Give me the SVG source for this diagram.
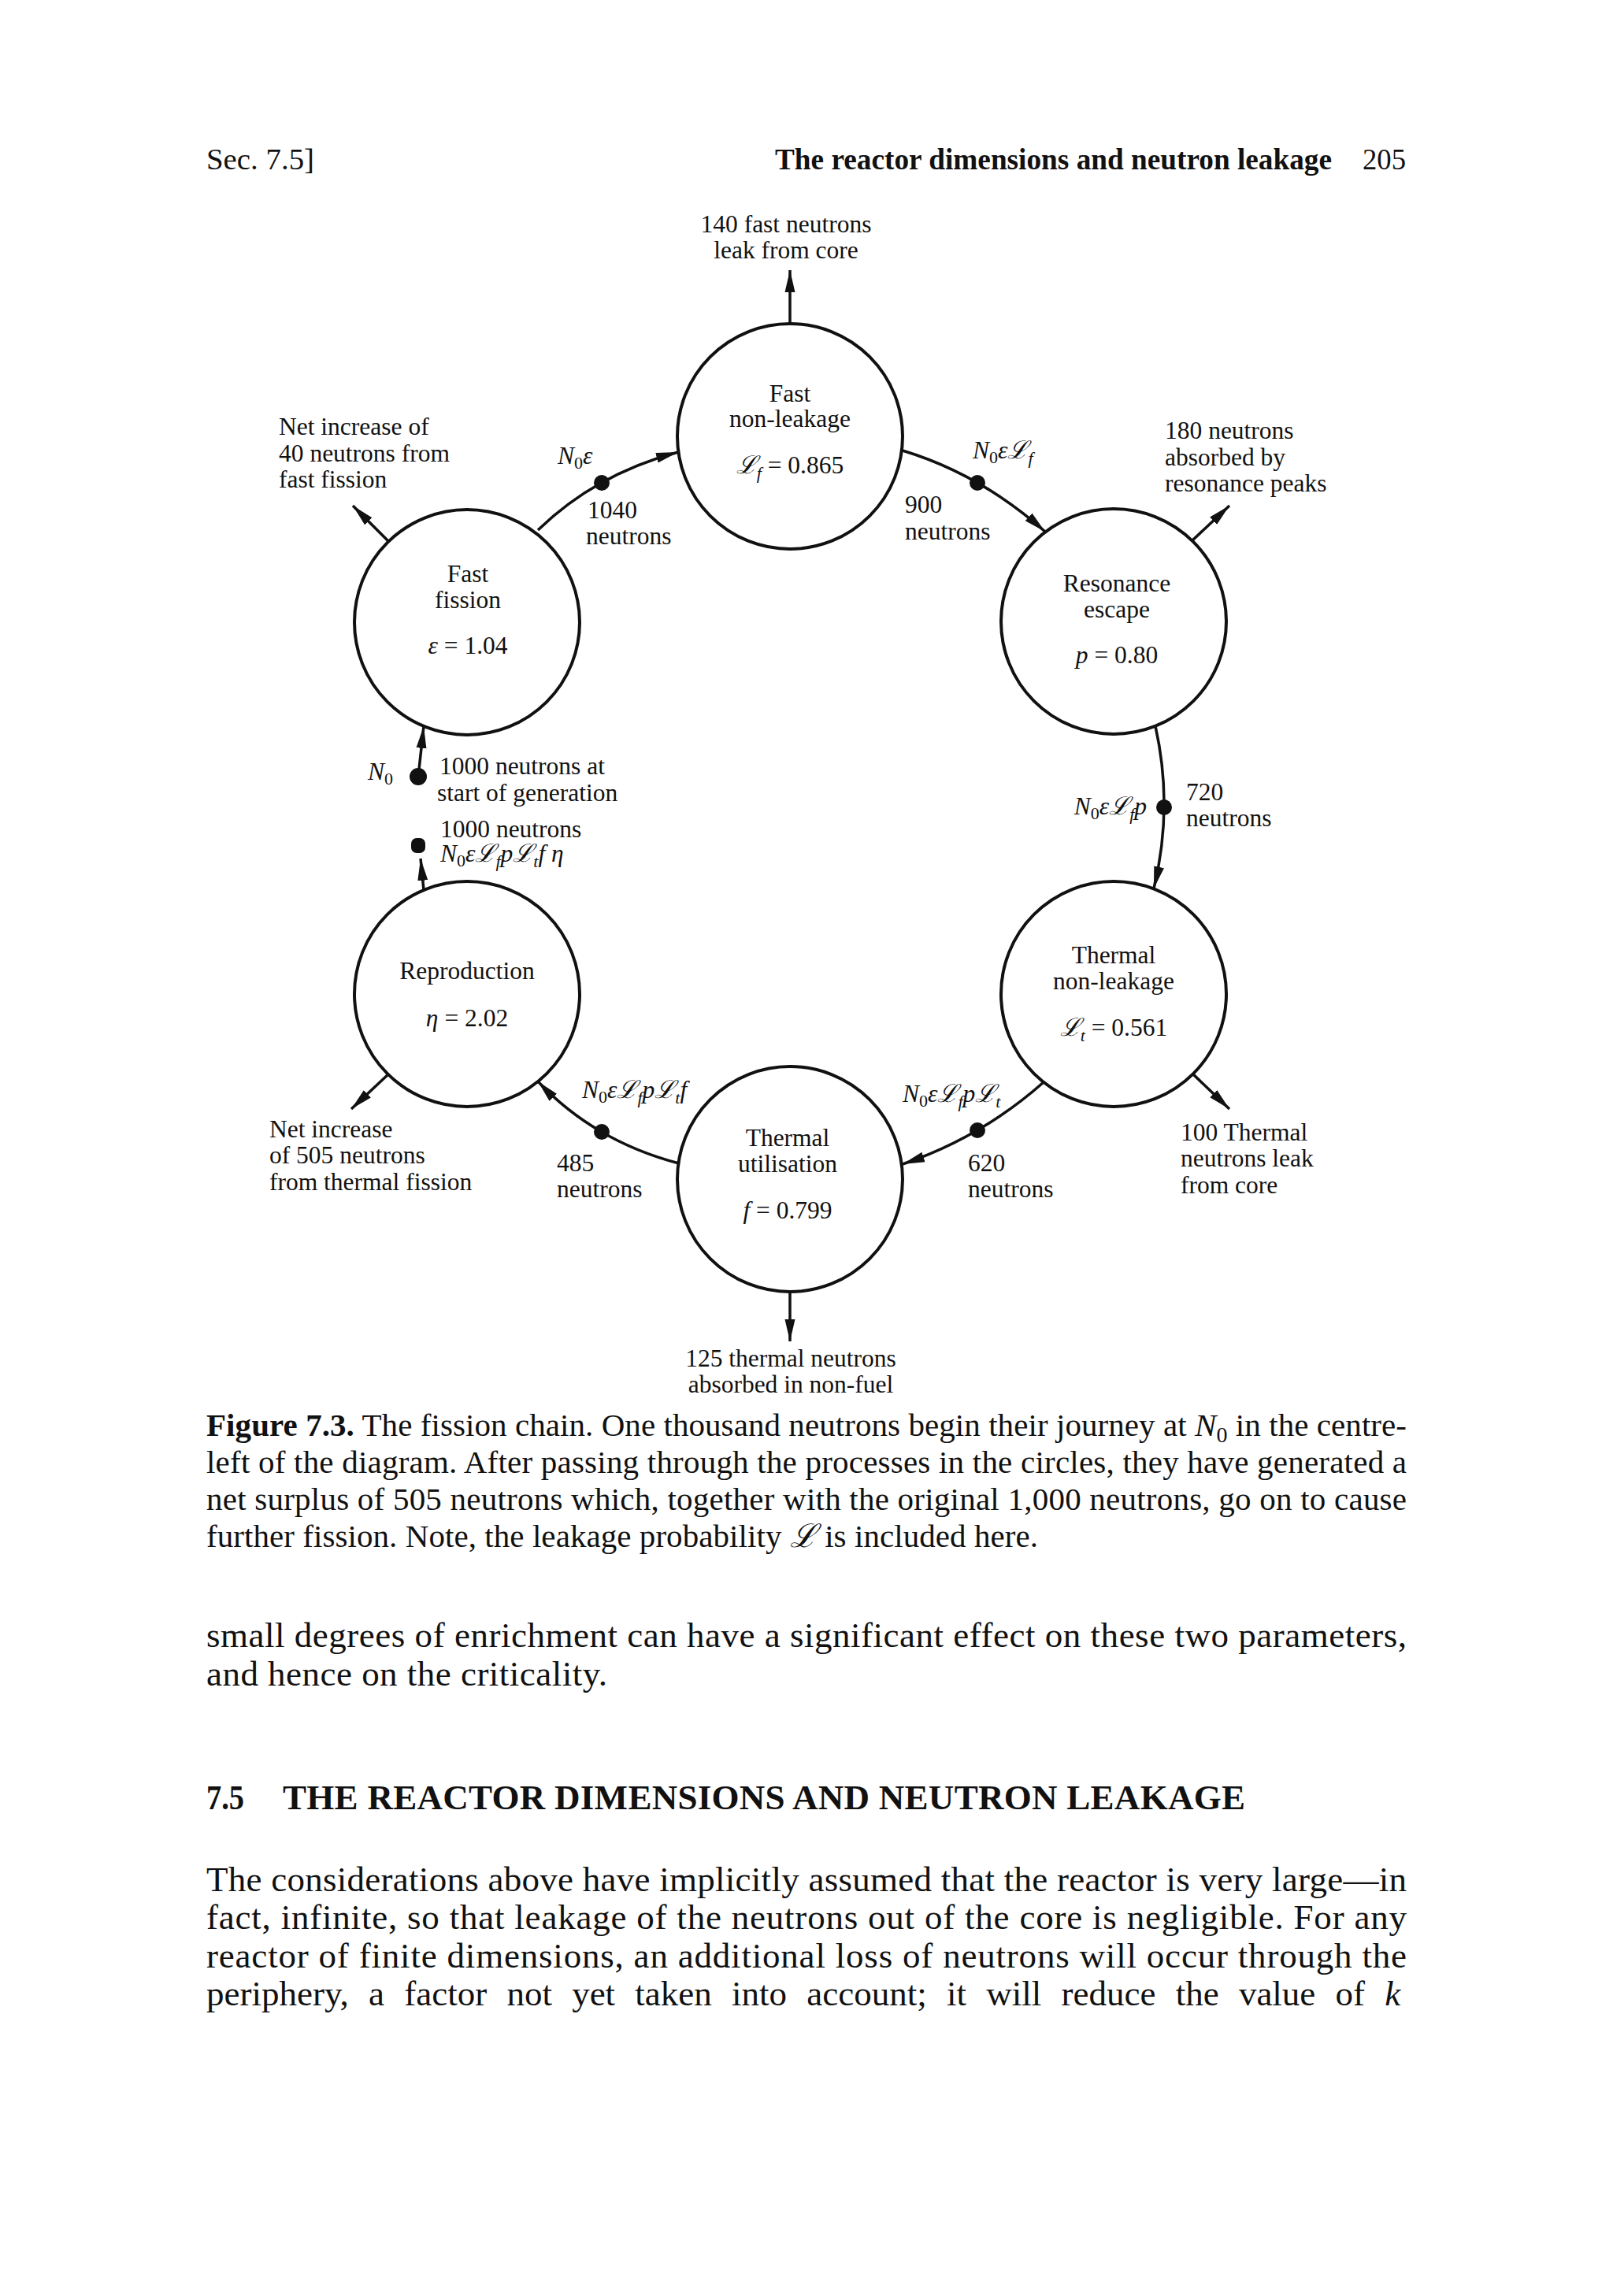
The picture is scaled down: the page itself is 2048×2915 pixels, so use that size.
<svg xmlns="http://www.w3.org/2000/svg" width="2048" height="2915" viewBox="0 0 2048 2915">
<style>
text{font-family:"Liberation Serif","DejaVu Serif",serif;fill:#111}
.d{font-size:31.5px}
.m{font-style:italic}
.c{text-anchor:middle}
.cap{font-size:41px}
.body{font-size:45px}
.node circle{fill:none;stroke:#111;stroke-width:4}
.conn path,.conn line{fill:none;stroke:#111;stroke-width:3.5}
.dot{fill:#111;stroke:none}
</style>
<defs>
<marker id="ah" markerWidth="30" markerHeight="16" refX="28" refY="8" orient="auto" markerUnits="userSpaceOnUse">
<path d="M0,1.5 L28,8 L0,14.5 Z" fill="#111"/>
</marker>
</defs>
<rect width="2048" height="2915" fill="#fff"/>

<g id="page-header">
<text x="262" y="215" font-size="38" textLength="137" lengthAdjust="spacingAndGlyphs">Sec. 7.5]</text>
<text x="984" y="215" font-size="37" font-weight="bold" textLength="707" lengthAdjust="spacingAndGlyphs">The reactor dimensions and neutron leakage</text>
<text x="1730" y="215" font-size="37" textLength="55" lengthAdjust="spacingAndGlyphs">205</text>
</g>

<g id="node-fast-nonleakage" class="node">
<circle cx="1003" cy="554" r="143"/>
<text class="d c" x="1003" y="510">Fast</text>
<text class="d c" x="1003" y="542">non-leakage</text>
<text class="d c" x="1003" y="601"><tspan class="m">ℒ</tspan><tspan class="m" font-size="22" dy="7">f</tspan><tspan dy="-7"> = 0.865</tspan></text>
</g>

<g id="node-resonance" class="node">
<circle cx="1414" cy="789" r="143"/>
<text class="d c" x="1418" y="751">Resonance</text>
<text class="d c" x="1418" y="784">escape</text>
<text class="d c" x="1418" y="842"><tspan class="m">p</tspan> = 0.80</text>
</g>

<g id="node-thermal-nonleakage" class="node">
<circle cx="1414" cy="1262" r="143"/>
<text class="d c" x="1414" y="1223">Thermal</text>
<text class="d c" x="1414" y="1256">non-leakage</text>
<text class="d c" x="1414" y="1315"><tspan class="m">ℒ</tspan><tspan class="m" font-size="22" dy="7">t</tspan><tspan dy="-7"> = 0.561</tspan></text>
</g>

<g id="node-thermal-utilisation" class="node">
<circle cx="1003" cy="1497" r="143"/>
<text class="d c" x="1000" y="1455">Thermal</text>
<text class="d c" x="1000" y="1488">utilisation</text>
<text class="d c" x="1000" y="1547"><tspan class="m">f</tspan> = 0.799</text>
</g>

<g id="node-reproduction" class="node">
<circle cx="593" cy="1262" r="143"/>
<text class="d c" x="593" y="1243">Reproduction</text>
<text class="d c" x="593" y="1303"><tspan class="m">η</tspan> = 2.02</text>
</g>

<g id="node-fast-fission" class="node">
<circle cx="593" cy="790" r="143"/>
<text class="d c" x="594" y="739">Fast</text>
<text class="d c" x="594" y="772">fission</text>
<text class="d c" x="594" y="830"><tspan class="m">ε</tspan> = 1.04</text>
</g>

<g id="connectors" class="conn">
<path d="M683,673 Q756,602 861,574" marker-end="url(#ah)"/>
<path d="M1146,572 Q1245,602 1327,675" marker-end="url(#ah)"/>
<path d="M1467,922 Q1490,1025 1465,1128" marker-end="url(#ah)"/>
<path d="M1325,1374 Q1246,1444 1146,1478" marker-end="url(#ah)"/>
<path d="M862,1477 Q755,1449 683,1373" marker-end="url(#ah)"/>
<path d="M538,1130 L534,1090" marker-end="url(#ah)"/>
<path d="M531,986 L538,922" marker-end="url(#ah)"/>
<path d="M1003,411 L1003,343" marker-end="url(#ah)"/>
<path d="M1514,686 L1561,642" marker-end="url(#ah)"/>
<path d="M1514,1363 L1561,1408" marker-end="url(#ah)"/>
<path d="M1003,1640 L1003,1703" marker-end="url(#ah)"/>
<path d="M494,1363 L446,1408" marker-end="url(#ah)"/>
<path d="M494,688 L448,642" marker-end="url(#ah)"/>
<circle class="dot" cx="764" cy="613" r="10"/>
<circle class="dot" cx="1241" cy="613" r="10"/>
<circle class="dot" cx="1478" cy="1025" r="10"/>
<circle class="dot" cx="1241" cy="1435" r="10"/>
<circle class="dot" cx="764" cy="1437" r="10"/>
<circle class="dot" cx="531" cy="986" r="11"/>
<rect class="dot" x="522" y="1064" width="18" height="19" rx="7"/>
</g>

<g id="labels">
<text class="d c" x="998" y="295">140 fast neutrons</text>
<text class="d c" x="998" y="328">leak from core</text>

<text class="d" x="354" y="552">Net increase of</text>
<text class="d" x="354" y="586">40 neutrons from</text>
<text class="d" x="354" y="619">fast fission</text>

<text class="d" x="708" y="589"><tspan class="m">N</tspan><tspan font-size="22" dy="6">0</tspan><tspan class="m" dy="-6">ε</tspan></text>
<text class="d" x="746" y="658">1040</text>
<text class="d" x="744" y="691">neutrons</text>

<text class="d" x="1235" y="582"><tspan class="m">N</tspan><tspan font-size="22" dy="6">0</tspan><tspan class="m" dy="-6">εℒ</tspan><tspan class="m" font-size="22" dy="7">f</tspan></text>
<text class="d" x="1149" y="651">900</text>
<text class="d" x="1149" y="685">neutrons</text>

<text class="d" x="1479" y="557">180 neutrons</text>
<text class="d" x="1479" y="591">absorbed by</text>
<text class="d" x="1479" y="624">resonance peaks</text>

<text class="d" x="467" y="990"><tspan class="m">N</tspan><tspan font-size="22" dy="6">0</tspan></text>
<text class="d" x="558" y="983">1000 neutrons at</text>
<text class="d" x="555" y="1017">start of generation</text>
<text class="d" x="559" y="1063">1000 neutrons</text>
<text class="d" x="559" y="1094"><tspan class="m">N</tspan><tspan font-size="22" dy="6">0</tspan><tspan class="m" dy="-6">εℒ</tspan><tspan class="m" font-size="22" dy="7">f</tspan><tspan class="m" dy="-7">pℒ</tspan><tspan class="m" font-size="22" dy="7">t</tspan><tspan class="m" dy="-7">f η</tspan></text>

<text class="d" x="1456" y="1034" text-anchor="end"><tspan class="m">N</tspan><tspan font-size="22" dy="6">0</tspan><tspan class="m" dy="-6">εℒ</tspan><tspan class="m" font-size="22" dy="7">f</tspan><tspan class="m" dy="-7">p</tspan></text>
<text class="d" x="1506" y="1016">720</text>
<text class="d" x="1506" y="1049">neutrons</text>

<text class="d" x="739" y="1394"><tspan class="m">N</tspan><tspan font-size="22" dy="6">0</tspan><tspan class="m" dy="-6">εℒ</tspan><tspan class="m" font-size="22" dy="7">f</tspan><tspan class="m" dy="-7">pℒ</tspan><tspan class="m" font-size="22" dy="7">t</tspan><tspan class="m" dy="-7">f</tspan></text>
<text class="d" x="1146" y="1399"><tspan class="m">N</tspan><tspan font-size="22" dy="6">0</tspan><tspan class="m" dy="-6">εℒ</tspan><tspan class="m" font-size="22" dy="7">f</tspan><tspan class="m" dy="-7">pℒ</tspan><tspan class="m" font-size="22" dy="7">t</tspan></text>

<text class="d" x="342" y="1444">Net increase</text>
<text class="d" x="342" y="1477">of 505 neutrons</text>
<text class="d" x="342" y="1511">from thermal fission</text>

<text class="d" x="707" y="1487">485</text>
<text class="d" x="707" y="1520">neutrons</text>
<text class="d" x="1229" y="1487">620</text>
<text class="d" x="1229" y="1520">neutrons</text>

<text class="d" x="1499" y="1448">100 Thermal</text>
<text class="d" x="1499" y="1481">neutrons leak</text>
<text class="d" x="1499" y="1515">from core</text>

<text class="d c" x="1004" y="1735" font-size="30">125 thermal neutrons</text>
<text class="d c" x="1004" y="1768" font-size="30">absorbed in non-fuel</text>
</g>

<g id="caption">
<text class="cap" x="262" y="1823" textLength="1524" lengthAdjust="spacing"><tspan font-weight="bold">Figure 7.3.</tspan> The fission chain. One thousand neutrons begin their journey at <tspan class="m">N</tspan><tspan font-size="28" dy="8">0</tspan><tspan dy="-8"> in the centre-</tspan></text>
<text class="cap" x="262" y="1870" textLength="1524" lengthAdjust="spacing">left of the diagram. After passing through the processes in the circles, they have generated a</text>
<text class="cap" x="262" y="1917" textLength="1524" lengthAdjust="spacing">net surplus of 505 neutrons which, together with the original 1,000 neutrons, go on to cause</text>
<text class="cap" x="262" y="1964" textLength="1056" lengthAdjust="spacing">further fission. Note, the leakage probability <tspan class="m">ℒ</tspan> is included here.</text>
</g>

<g id="body-text">
<text class="body" x="262" y="2091" textLength="1524" lengthAdjust="spacing">small degrees of enrichment can have a significant effect on these two parameters,</text>
<text class="body" x="262" y="2140" textLength="509" lengthAdjust="spacing">and hence on the criticality.</text>
<text class="body" x="262" y="2297" font-weight="bold" textLength="48" lengthAdjust="spacingAndGlyphs">7.5</text>
<text class="body" x="359" y="2297" font-weight="bold" textLength="1222" lengthAdjust="spacing">THE REACTOR DIMENSIONS AND NEUTRON LEAKAGE</text>
<text class="body" x="262" y="2401" textLength="1524" lengthAdjust="spacing">The considerations above have implicitly assumed that the reactor is very large—in</text>
<text class="body" x="262" y="2449" textLength="1524" lengthAdjust="spacing">fact, infinite, so that leakage of the neutrons out of the core is negligible. For any</text>
<text class="body" x="262" y="2498" textLength="1524" lengthAdjust="spacing">reactor of finite dimensions, an additional loss of neutrons will occur through the</text>
<text class="body" x="262" y="2546" word-spacing="14">periphery, a factor not yet taken into account; it will reduce the value of <tspan class="m">k</tspan></text>
</g>
</svg>
